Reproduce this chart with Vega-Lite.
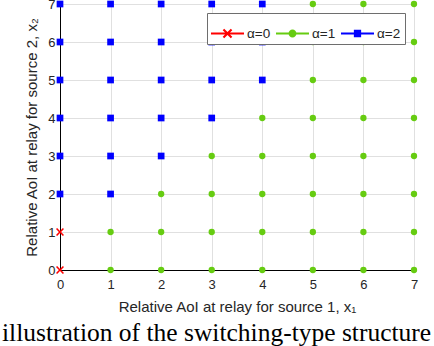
{
  "$schema": "https://vega.github.io/schema/vega-lite/v6.json",
  "width": 354,
  "height": 266,
  "autosize": "none",
  "padding": {"left": 60, "top": 4, "right": 20, "bottom": 76},
  "background": "white",
  "title": {
    "text": "illustration of the switching-type structure",
    "orient": "bottom",
    "anchor": "start",
    "frame": "group",
    "dx": -58,
    "offset": 7,
    "font": "Liberation Serif",
    "fontSize": 25.5,
    "fontWeight": "normal",
    "color": "#000000"
  },
  "config": {
    "view": {"stroke": "#000000", "strokeWidth": 1},
    "axis": {
      "labelFont": "Liberation Sans",
      "labelFontSize": 13,
      "labelColor": "#262626",
      "titleFont": "Liberation Sans",
      "titleFontSize": 15,
      "titleFontWeight": "normal",
      "titleColor": "#262626",
      "domainColor": "#000000",
      "gridColor": "#e0e0e0",
      "gridWidth": 1,
      "ticks": false
    }
  },
  "data": {
    "values": [
      {"x": 0, "y": 0, "a": "α=0"}, {"x": 0, "y": 1, "a": "α=0"},
      {"x": 0, "y": 2, "a": "α=2"}, {"x": 0, "y": 3, "a": "α=2"}, {"x": 0, "y": 4, "a": "α=2"}, {"x": 0, "y": 5, "a": "α=2"}, {"x": 0, "y": 6, "a": "α=2"}, {"x": 0, "y": 7, "a": "α=2"},
      {"x": 1, "y": 0, "a": "α=1"}, {"x": 1, "y": 1, "a": "α=1"},
      {"x": 1, "y": 2, "a": "α=2"}, {"x": 1, "y": 3, "a": "α=2"}, {"x": 1, "y": 4, "a": "α=2"}, {"x": 1, "y": 5, "a": "α=2"}, {"x": 1, "y": 6, "a": "α=2"}, {"x": 1, "y": 7, "a": "α=2"},
      {"x": 2, "y": 0, "a": "α=1"}, {"x": 2, "y": 1, "a": "α=1"}, {"x": 2, "y": 2, "a": "α=1"},
      {"x": 2, "y": 3, "a": "α=2"}, {"x": 2, "y": 4, "a": "α=2"}, {"x": 2, "y": 5, "a": "α=2"}, {"x": 2, "y": 6, "a": "α=2"}, {"x": 2, "y": 7, "a": "α=2"},
      {"x": 3, "y": 0, "a": "α=1"}, {"x": 3, "y": 1, "a": "α=1"}, {"x": 3, "y": 2, "a": "α=1"}, {"x": 3, "y": 3, "a": "α=1"},
      {"x": 3, "y": 4, "a": "α=2"}, {"x": 3, "y": 5, "a": "α=2"}, {"x": 3, "y": 6, "a": "α=2"}, {"x": 3, "y": 7, "a": "α=2"},
      {"x": 4, "y": 0, "a": "α=1"}, {"x": 4, "y": 1, "a": "α=1"}, {"x": 4, "y": 2, "a": "α=1"}, {"x": 4, "y": 3, "a": "α=1"}, {"x": 4, "y": 4, "a": "α=1"},
      {"x": 4, "y": 5, "a": "α=2"}, {"x": 4, "y": 6, "a": "α=2"}, {"x": 4, "y": 7, "a": "α=2"},
      {"x": 5, "y": 0, "a": "α=1"}, {"x": 5, "y": 1, "a": "α=1"}, {"x": 5, "y": 2, "a": "α=1"}, {"x": 5, "y": 3, "a": "α=1"}, {"x": 5, "y": 4, "a": "α=1"}, {"x": 5, "y": 5, "a": "α=1"}, {"x": 5, "y": 6, "a": "α=1"}, {"x": 5, "y": 7, "a": "α=1"},
      {"x": 6, "y": 0, "a": "α=1"}, {"x": 6, "y": 1, "a": "α=1"}, {"x": 6, "y": 2, "a": "α=1"}, {"x": 6, "y": 3, "a": "α=1"}, {"x": 6, "y": 4, "a": "α=1"}, {"x": 6, "y": 5, "a": "α=1"}, {"x": 6, "y": 6, "a": "α=1"}, {"x": 6, "y": 7, "a": "α=1"},
      {"x": 7, "y": 0, "a": "α=1"}, {"x": 7, "y": 1, "a": "α=1"}, {"x": 7, "y": 2, "a": "α=1"}, {"x": 7, "y": 3, "a": "α=1"}, {"x": 7, "y": 4, "a": "α=1"}, {"x": 7, "y": 5, "a": "α=1"}, {"x": 7, "y": 6, "a": "α=1"}, {"x": 7, "y": 7, "a": "α=1"}
    ]
  },
  "encoding": {
    "x": {
      "field": "x",
      "type": "quantitative",
      "scale": {"domain": [0, 7], "nice": false, "zero": false},
      "axis": {
        "values": [0, 1, 2, 3, 4, 5, 6, 7],
        "title": "Relative AoI at relay for source 1, x₁",
        "labelPadding": 8,
        "titlePadding": 8,
        "labelFlush": false
      }
    },
    "y": {
      "field": "y",
      "type": "quantitative",
      "scale": {"domain": [0, 7], "nice": false, "zero": false},
      "axis": {
        "values": [0, 1, 2, 3, 4, 5, 6, 7],
        "title": "Relative AoI at relay for source 2, x₂",
        "labelPadding": 5,
        "titlePadding": 8,
        "labelFlush": false
      }
    }
  },
  "layer": [
    {
      "transform": [{"filter": "datum.a === 'α=1'"}],
      "mark": {"type": "point", "filled": true, "opacity": 1, "clip": false, "strokeWidth": 0, "shape": "circle", "size": 40, "color": "#66cc11"}
    },
    {
      "transform": [{"filter": "datum.a === 'α=2'"}],
      "mark": {"type": "point", "filled": true, "opacity": 1, "clip": false, "strokeWidth": 0, "shape": "square", "size": 45, "color": "#0000ff"}
    },
    {
      "transform": [{"filter": "datum.a === 'α=0'"}],
      "mark": {"type": "point", "filled": true, "opacity": 1, "clip": false, "strokeWidth": 0, "shape": "M-1,-0.72L-0.72,-1L0,-0.28L0.72,-1L1,-0.72L0.28,0L1,0.72L0.72,1L0,0.28L-0.72,1L-1,0.72L-0.28,0Z", "size": 64, "color": "#ff0000"}
    },
    {
      "transform": [{"filter": "false"}],
      "mark": {"type": "point", "filled": true, "opacity": 1, "clip": false, "strokeWidth": 0},
      "encoding": {
        "color": {
          "field": "a",
          "type": "nominal",
          "scale": {"domain": ["α=0", "α=1", "α=2"], "range": ["#ff0000", "#66cc11", "#0000ff"]},
          "legend": {
            "title": null,
            "orient": "top-right",
            "offset": 9,
            "direction": "horizontal",
            "strokeColor": "#6e6e6e",
            "fillColor": "#ffffff",
            "padding": 4,
            "labelFont": "Liberation Sans",
            "labelFontSize": 13.5,
            "labelColor": "#262626",
            "labelOffset": 3,
            "columnPadding": 5,
            "symbolSize": 1089,
            "symbolStrokeWidth": 0,
            "symbolOpacity": 1
          }
        },
        "shape": {
          "field": "a",
          "type": "nominal",
          "scale": {"domain": ["α=0", "α=1", "α=2"], "range": [
            "M-1,-0.065H1V0.065H-1Z M-0.29,-0.2L-0.2,-0.29L0,-0.09L0.2,-0.29L0.29,-0.2L0.09,0L0.29,0.2L0.2,0.29L0,0.09L-0.2,0.29L-0.29,0.2L-0.09,0Z",
            "M-1,-0.065H1V0.065H-1Z M-0.24,0A0.24,0.24 0 1,1 0.24,0A0.24,0.24 0 1,1 -0.24,0Z",
            "M-1,-0.065H1V0.065H-1Z M-0.22,-0.22H0.22V0.22H-0.22Z"
          ]}
        }
      }
    }
  ]
}
